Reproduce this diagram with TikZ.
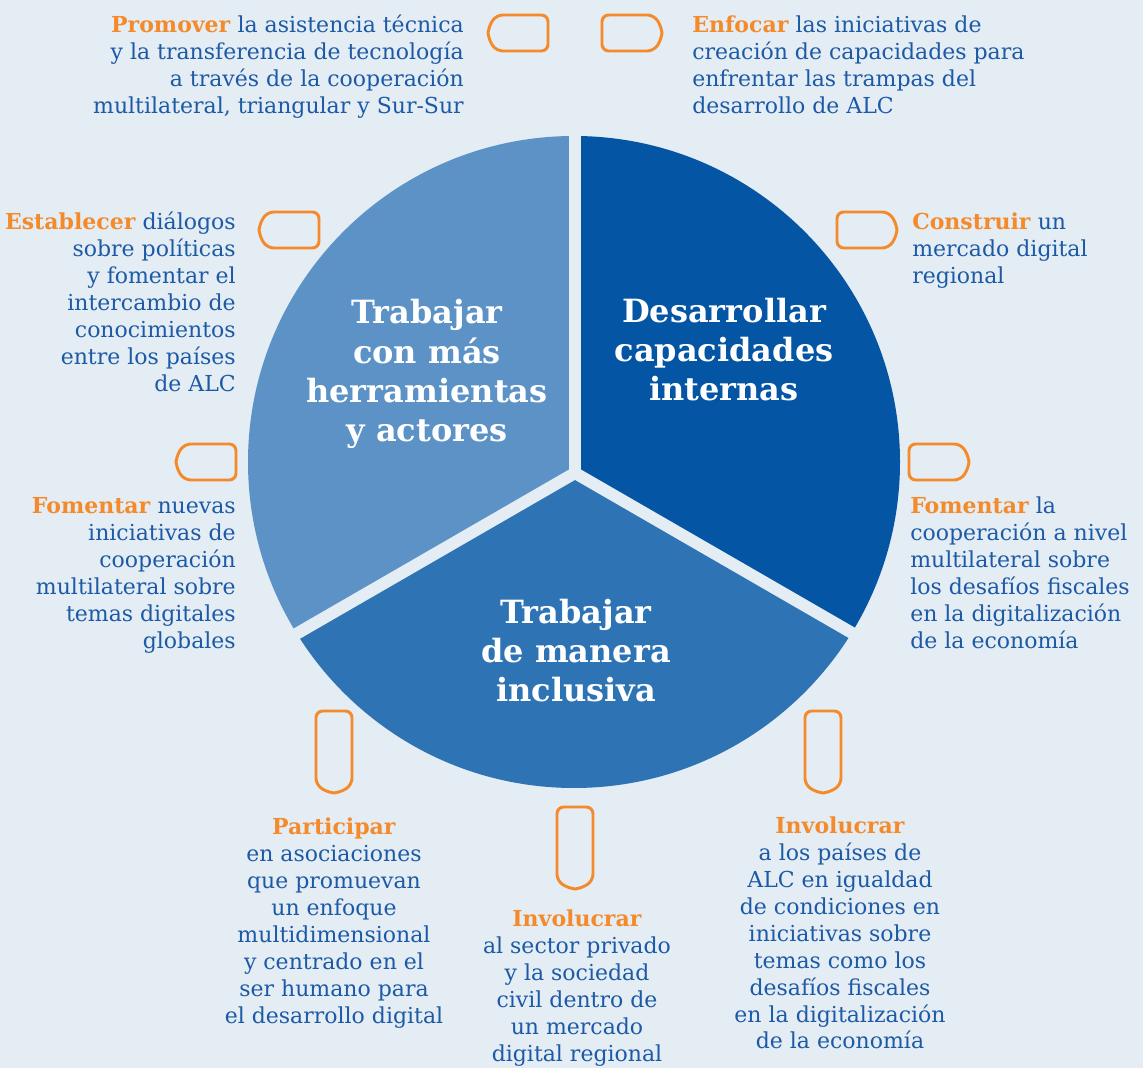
\documentclass[tikz,border=0pt]{standalone}
\usepackage{fontspec}
\setmainfont{DejaVu Serif}
\definecolor{pagebg}{RGB}{228,236,244}
\definecolor{pieleft}{RGB}{92,146,197}
\definecolor{pieright}{RGB}{4,85,163}
\definecolor{piebottom}{RGB}{46,116,181}
\definecolor{textblue}{RGB}{28,90,166}
\definecolor{tagorange}{RGB}{244,138,42}
\newcommand{\kw}[1]{\textcolor{tagorange}{\textbf{#1}}}
\newcommand{\notefont}{\fontsize{16.5}{20.25}\selectfont}
\newcommand{\titlefont}{\fontsize{24}{29.6}\selectfont\bfseries}

\begin{document}
\begin{tikzpicture}[
    x=0.75pt, y=0.75pt,
    note/.style={font=\notefont, text=textblue, inner sep=0pt},
    title/.style={font=\titlefont, text=white, align=center, inner sep=0pt, anchor=base},
    gap/.style={draw=pagebg, line width=9pt},
    tabline/.style={draw=tagorange, line width=2.2pt, rounded corners=5pt},
    tab/.pic={\draw[tabline] (-#1,-18) -- (#1-8,-18) -- (#1,-5) -- (#1,5) -- (#1-8,18) -- (-#1,18) -- cycle;}
]
\fill[pagebg] (0,0) rectangle (1143,1068);
\useasboundingbox (0,0) rectangle (1143,1068);

% pie: circle round c, split at the junction y
\coordinate (c) at (574,606);
\coordinate (y) at (575,595);
\begin{scope}
  \clip (c) circle (326);
  \fill[pieright] (y) -- ++(90:700) arc[start angle=90, end angle=-30, radius=700] -- cycle;
  \fill[piebottom] (y) -- ++(-30:700) arc[start angle=-30, end angle=-150, radius=700] -- cycle;
  \fill[pieleft] (y) -- ++(210:700) arc[start angle=210, end angle=90, radius=700] -- cycle;
\end{scope}
\draw[gap] (y) -- ++(90:400);
\draw[gap] (y) -- ++(-30:400);
\draw[gap] (y) -- ++(210:400);

\node[title] (tools) at (427,626) {Trabajar\\con más\\herramientas\\y actores};
\node[title] (inner) at (724,667) {Desarrollar\\capacidades\\internas};
\node[title] (inclusive) at (576,366) {Trabajar\\de manera\\inclusiva};

% tabs
\pic[rotate=180] (tabtl) at (518,1035) {tab=30};
\pic (tabtr) at (632,1035) {tab=30};
\pic[rotate=180] (tabml) at (289,838) {tab=30};
\pic (tabmr) at (867,838) {tab=30};
\pic[rotate=180] (tabll) at (206,606) {tab=30};
\pic (tablr) at (939,606) {tab=30};
\pic[rotate=-90] (tabbl) at (334,316) {tab=41};
\pic[rotate=-90] (tabbc) at (575,220) {tab=41};
\pic[rotate=-90] (tabbr) at (823,316) {tab=41};

% notes (base = last line)
\node[note, align=right, anchor=base east] (promover) at (464,954)
  {\kw{Promover} la asistencia técnica\\y la transferencia de tecnología\\a través de la cooperación\\multilateral, triangular y Sur-Sur};
\node[note, align=left, anchor=base west] (enfocar) at (692,954)
  {\kw{Enfocar} las iniciativas de\\creación de capacidades para\\enfrentar las trampas del\\desarrollo de ALC};
\node[note, align=right, anchor=base east] (establecer) at (236,676)
  {\kw{Establecer} diálogos\\sobre políticas\\y fomentar el\\intercambio de\\conocimientos\\entre los países\\de ALC};
\node[note, align=left, anchor=base west] (construir) at (912,784)
  {\kw{Construir} un\\mercado digital\\regional};
\node[note, align=right, anchor=base east] (fomentarl) at (236,419)
  {\kw{Fomentar} nuevas\\iniciativas de\\cooperación\\multilateral sobre\\temas digitales\\globales};
\node[note, align=left, anchor=base west] (fomentarr) at (910,419)
  {\kw{Fomentar} la\\cooperación a nivel\\multilateral sobre\\los desafíos fiscales\\en la digitalización\\de la economía};
\node[note, align=center, anchor=base] (participar) at (334,45)
  {\kw{Participar}\\en asociaciones\\que promuevan\\un enfoque\\multidimensional\\y centrado en el\\ser humano para\\el desarrollo digital};
\node[note, align=center, anchor=base] (involucrarc) at (577,7)
  {\kw{Involucrar}\\al sector privado\\y la sociedad\\civil dentro de\\un mercado\\digital regional};
\node[note, align=center, anchor=base] (involucrarr) at (840,19)
  {\kw{Involucrar}\\a los países de\\ALC en igualdad\\de condiciones en\\iniciativas sobre\\temas como los\\desafíos fiscales\\en la digitalización\\de la economía};
\end{tikzpicture}
\end{document}
